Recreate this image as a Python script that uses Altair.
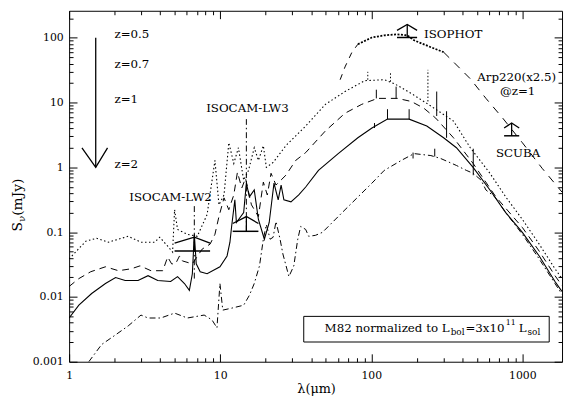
import altair as alt
import pandas as pd

# ---------------- data ----------------
# z = 0.5 (dotted)
z05_lam = [1, 1.29, 1.52, 1.82, 2.46, 2.99, 3.69, 3.98, 4.49, 4.84, 4.99, 5.22, 6.06, 7.05, 8.19,
           9.23, 9.81, 10.6, 11.4, 12.3, 13.2, 14.3, 15.4, 16.8, 17.9, 19.3, 20.2, 22.4, 27.2, 36.8,
           49.7, 67, 90.6, 122, 142, 184, 233, 350, 452, 610, 776, 1000, 1292, 1644, 1827]
z05_S = [0.0386, 0.0725, 0.0805, 0.070, 0.0863, 0.070, 0.070, 0.0834, 0.0608, 0.0493, 0.222, 0.110,
         0.0926, 0.0863, 0.187, 1.28, 0.264, 0.375, 2.40, 1.15, 2.01, 0.634, 0.90, 2.01, 1.28, 2.16,
         1.0, 1.19, 2.16, 4.35, 9.39, 14.8, 21.8, 22.5, 19.6, 13.8, 9.72, 5.18, 2.01, 0.81, 0.35,
         0.157, 0.0653, 0.0272, 0.0192]

# z = 0.7 (dashed)
z07_lam = [1, 1.16, 1.39, 1.74, 2.12, 2.58, 2.95, 3.48, 4.17, 4.49, 4.77, 5.06, 5.38, 5.62, 6.54,
           7.60, 8.57, 9.23, 9.81, 10.6, 11.4, 12.3, 13.0, 13.9, 14.7, 16.1, 17.9, 19.3, 20.5, 21.7,
           23.4, 27.2, 31.6, 36.8, 49.7, 67, 86.5, 110, 149, 184, 223, 267, 350, 472, 668, 1000,
           1292, 1644, 1827]
z07_S = [0.0145, 0.0192, 0.0245, 0.0292, 0.0254, 0.0272, 0.0302, 0.0254, 0.0254, 0.0414, 0.0324,
         0.0324, 0.0429, 0.036, 0.0324, 0.0548, 0.0653, 0.0926, 0.174, 0.338, 0.222, 0.375, 0.84,
         0.48, 0.68, 0.264, 0.174, 0.592, 0.375, 0.81, 0.533, 0.756, 1.28, 1.69, 3.65, 6.85, 9.39,
         11.6, 11.6, 10.4, 8.17, 5.75, 2.86, 1.15, 0.35, 0.118, 0.051, 0.0213, 0.015]

# z = 1 (solid)
z1_lam = [1, 1.16, 1.41, 1.74, 2.03, 2.35, 2.86, 3.33, 3.86, 4.70, 5.22, 5.80, 6.25, 6.54, 6.74,
          6.94, 7.37, 8.19, 9.96, 11.1, 11.6, 11.9, 12.5, 12.8, 14.3, 14.9, 15.6, 16.8, 17.9, 19.6,
          21.1, 22.7, 24.2, 25.3, 26.4, 29.4, 33.1, 36.8, 44.7, 60.4, 81.5, 101, 128, 178, 233,
          301, 366, 472, 610, 776, 1000, 1292, 1644, 1827]
z1_S = [0.00473, 0.00745, 0.0113, 0.0161, 0.0199, 0.0179, 0.0179, 0.0213, 0.0179, 0.0173, 0.0206,
        0.0161, 0.0126, 0.0228, 0.0926, 0.0324, 0.0245, 0.0228, 0.0292, 0.0429, 0.070, 0.1225,
        0.315, 0.141, 0.20, 0.571, 0.35, 0.447, 0.157, 0.0778, 0.141, 0.571, 0.315, 0.533, 0.315,
        0.294, 0.375, 0.497, 0.90, 1.63, 2.86, 4.05, 5.55, 5.55, 4.35, 2.86, 2.01, 1.0, 0.447,
        0.20, 0.0993, 0.0429, 0.0173, 0.0122]

# z = 2 (dash-dot)
z2_lam = [1.35, 1.64, 2.03, 2.46, 2.99, 3.33, 4.04, 4.99, 6.06, 7.83, 8.83, 9.52, 9.96, 10.4, 11.9,
          14.3, 15.6, 16.8, 18.2, 19.3, 20.2, 21.4, 22.4, 23.4, 24.9, 26.0, 28.5, 30.7, 32.6, 34.1,
          36.8, 38.5, 42.7, 47.5, 64.1, 101, 122, 158, 192, 248, 288, 366, 425, 472, 533, 574, 658,
          776, 1000, 1292, 1644, 1827]
z2_S = [0.001, 0.00184, 0.0026, 0.00357, 0.00525, 0.00473, 0.00473, 0.00563, 0.00473, 0.00525,
        0.00441, 0.00333, 0.0161, 0.00626, 0.00671, 0.00745, 0.0106, 0.0161, 0.0302, 0.0778, 0.131,
        0.0778, 0.0834, 0.146, 0.0778, 0.046, 0.0206, 0.0302, 0.0778, 0.1225, 0.110, 0.0863,
        0.0893, 0.0993, 0.20, 0.571, 0.90, 1.28, 1.63, 1.52, 1.37, 1.07, 0.90, 0.81, 0.634, 0.447,
        0.35, 0.20, 0.0926, 0.0386, 0.0161, 0.011]

# Arp220 (x2.5) @ z=1, three drawn pieces
arpA_lam = [62.2, 67, 74.5, 81.5]
arpA_S = [22.5, 35.5, 60, 79.4]
arpB_lam = [81.5, 101, 122, 149, 173, 192, 248, 301]
arpB_S = [79.4, 101, 109, 113, 109, 91.3, 71.5, 60]
arpC_lam = [301, 350, 452, 574, 741, 1000, 1352, 1827]
arpC_S = [60, 42.3, 23.3, 11.6, 5.75, 2.40, 0.966, 0.417]

# instrument limit symbols
sym_name = ["LW2", "LW3", "ISOPHOT", "SCUBA"]
sym_lam = [6.74, 14.9, 173, 849]
sym_lo = [4.99, 12.1, 148, 757]
sym_hi = [8.57, 17.9, 201, 953]
sym_bar = [0.051, 0.103, 101, 3.07]
sym_top = [0.0834, 0.174, 160, 4.83]
sym_arm = [0.0676, 0.136, 130, 4.05]

# dash-dot filter marker lines
mk_lam = [6.74, 14.9]
mk_lo = [0.0192, 0.103]
mk_hi = [0.264, 5.55]

# short vertical bars on the curves
bar_lam = [94.8, 134, 237, 108, 146, 271, 105, 128, 178, 315, 189, 263, 473]
bar_lo = [22.5, 21, 10.4, 11.6, 11.6, 6.2, 4.05, 5.55, 5.55, 2.86, 1.37, 1.47, 0.756]
bar_hi = [29.8, 29.8, 32, 15.8, 17.6, 14.8, 4.83, 7.9, 7.9, 7.35, 1.69, 1.94, 1.94]
bar_dotted = [True, True, True, False, False, False, False, False, False, False, False, False, False]

# redshift arrow
arrow_lam = [1.5, 1.5]
arrow_S = [100, 1]
head_lam = [1.216, 1.5, 1.796]
head_S = [2.0, 1.0, 2.0]

x_major = [1, 10, 100, 1000]
y_major = [0.001, 0.01, 0.1, 1, 10, 100]

# ---------------- layout ----------------
W, H = 500, 356
X0, Y0 = 70, 8
FONT = "DejaVu Serif"

xs = alt.Scale(type="log", domain=[1, 1830], nice=False)
ys = alt.Scale(type="log", domain=[0.001, 261], nice=False)

x_ticks = sorted({round(k * 10 ** e, 6) for e in range(0, 4) for k in range(1, 10) if k * 10 ** e <= 1830})
y_ticks = sorted({round(k * 10 ** e, 6) for e in range(-3, 3) for k in range(1, 10) if k * 10 ** e <= 261})
x_test = "indexof([1,10,100,1000], datum.value) >= 0"
y_test = "indexof([0.001,0.01,0.1,1,10,100], datum.value) >= 0"


def tick_axis(orient, offset, values, test):
    return alt.Axis(orient=orient, offset=offset, values=values, labels=False, domain=False,
                    grid=False, title="", tickColor="black", tickWidth=1,
                    tickSize={"condition": {"test": test, "value": 8}, "value": 4})


def label_axis(orient, values, pad):
    return alt.Axis(orient=orient, values=values, ticks=False, tickSize=0, domain=False, grid=False,
                    title="", labelFont=FONT, labelFontSize=11, labelColor="black",
                    labelPadding=pad, labelExpr="toString(datum.value)", labelFlush=False,
                    labelOverlap=False)


dummy = pd.DataFrame({"lam": [1.0], "S": [1.0]})


def axis_layer(xa, ya):
    return alt.Chart(dummy).mark_point(opacity=0).encode(
        x=alt.X("lam:Q", scale=xs, axis=xa), y=alt.Y("S:Q", scale=ys, axis=ya))


ax1 = axis_layer(label_axis("bottom", x_major, 8), label_axis("left", y_major, 6))
ax2 = axis_layer(tick_axis("top", -H, x_ticks, x_test), tick_axis("right", -W, y_ticks, y_test))
ax3 = axis_layer(tick_axis("bottom", -H, x_ticks, x_test), tick_axis("left", -W, y_ticks, y_test))


def curve(lam, S, dash=None, width=1.0):
    df = pd.DataFrame({"lam": lam, "S": S, "i": list(range(len(lam)))})
    kw = dict(color="black", strokeWidth=width, clip=True)
    if dash:
        kw["strokeDash"] = dash
    return alt.Chart(df).mark_line(**kw).encode(
        x=alt.X("lam:Q", scale=xs, axis=None), y=alt.Y("S:Q", scale=ys, axis=None),
        order=alt.Order("i:Q"))


c05 = curve(z05_lam, z05_S, [1.5, 2.5], 1.1)
c07 = curve(z07_lam, z07_S, [7, 5], 1.0)
c1 = curve(z1_lam, z1_S, None, 1.1)
c2 = curve(z2_lam, z2_S, [6, 3, 1.5, 3], 1.0)
arpA = curve(arpA_lam, arpA_S, [6, 6], 1.0)
arpB = curve(arpB_lam, arpB_S, [2, 1.5], 1.8)
arpC = curve(arpC_lam, arpC_S, [8, 7], 1.0)
arrow = curve(arrow_lam, arrow_S, None, 1.3)
arrow_head = curve(head_lam, head_S, None, 1.3)

sym = pd.DataFrame({"name": sym_name, "lam": sym_lam, "lo": sym_lo, "hi": sym_hi,
                    "bar": sym_bar, "top": sym_top, "arm": sym_arm})
sym_bar_l = alt.Chart(sym).mark_rule(color="black", strokeWidth=1.5).encode(
    x=alt.X("lo:Q", scale=xs, axis=None), x2="hi:Q", y=alt.Y("bar:Q", scale=ys, axis=None))
sym_stem = alt.Chart(sym).mark_rule(color="black", strokeWidth=1.3).encode(
    x=alt.X("lam:Q", scale=xs, axis=None), y=alt.Y("bar:Q", scale=ys, axis=None), y2="top:Q")
head_rows = []
for n, c, lo, hi, t, a in zip(sym_name, sym_lam, sym_lo, sym_hi, sym_top, sym_arm):
    head_rows += [{"name": n, "lam": lo, "S": a, "i": 0}, {"name": n, "lam": c, "S": t, "i": 1},
                  {"name": n, "lam": hi, "S": a, "i": 2}]
sym_head = alt.Chart(pd.DataFrame(head_rows)).mark_line(color="black", strokeWidth=1.3).encode(
    x=alt.X("lam:Q", scale=xs, axis=None), y=alt.Y("S:Q", scale=ys, axis=None),
    detail="name:N", order="i:Q")

mk = pd.DataFrame({"lam": mk_lam, "lo": mk_lo, "hi": mk_hi})
mk_l = alt.Chart(mk).mark_rule(color="black", strokeWidth=1, strokeDash=[6, 3, 1.5, 3]).encode(
    x=alt.X("lam:Q", scale=xs, axis=None), y=alt.Y("lo:Q", scale=ys, axis=None), y2="hi:Q")

bars = pd.DataFrame({"lam": bar_lam, "lo": bar_lo, "hi": bar_hi, "dotted": bar_dotted})
bars_solid = alt.Chart(bars).transform_filter("!datum.dotted").mark_rule(
    color="black", strokeWidth=1).encode(
    x=alt.X("lam:Q", scale=xs, axis=None), y=alt.Y("lo:Q", scale=ys, axis=None), y2="hi:Q")
bars_dot = alt.Chart(bars).transform_filter("datum.dotted").mark_rule(
    color="black", strokeWidth=1, strokeDash=[1.5, 2]).encode(
    x=alt.X("lam:Q", scale=xs, axis=None), y=alt.Y("lo:Q", scale=ys, axis=None), y2="hi:Q")

one = pd.DataFrame({"a": [0]})


def label(text, px, py, size=12, align="left", angle=0):
    kw = dict(text=text, font=FONT, fontSize=size, align=align, baseline="middle", color="black")
    if angle:
        kw["angle"] = angle
    return alt.Chart(one).mark_text(**kw).encode(x=alt.value(px - X0), y=alt.value(py - Y0))


texts = [
    label("z=0.5", 116, 32), label("z=0.7", 116, 62), label("z=1", 116, 98), label("z=2", 116, 163),
    label("ISOCAM-LW2", 131, 197), label("ISOCAM-LW3", 209, 107), label("ISOPHOT", 430, 32),
    label("Arp220(x2.5)", 484, 75), label("@z=1", 507, 89), label("SCUBA", 503, 152),
    label("λ(μm)", 321, 392, 13, "center"),
    label("S", 18, 232, 14, "left", 270), label("ν", 22, 222, 10, "left", 270),
    label("(mJy)", 18, 216, 14, "left", 270),
]

box = alt.Chart(one).mark_rect(fill="white", stroke="black", strokeWidth=1).encode(
    x=alt.value(308 - X0), x2=alt.value(557 - X0), y=alt.value(318 - Y0), y2=alt.value(344 - Y0))
box_texts = [
    label("M82 normalized to L", 456, 330, 12, "right"),
    label("bol", 457, 334, 9),
    label("=3x10", 472, 330, 12),
    label("11", 513, 325, 8),
    label("L", 526, 330, 12),
    label("sol", 535, 334, 9),
]

chart = alt.layer(
    ax1, ax2, ax3,
    c05, c07, c1, c2, arpA, arpB, arpC, arrow, arrow_head,
    mk_l, bars_solid, bars_dot, sym_bar_l, sym_stem, sym_head,
    *texts, box, *box_texts,
).resolve_axis(x="independent", y="independent").properties(
    width=W, height=H,
    autosize=alt.AutoSizeParams(type="none"),
    padding={"left": 62, "top": 0, "right": 2, "bottom": 36},
    background="white",
).configure_view(stroke="black", strokeWidth=1)

chart.save("out.html", embed_options={"renderer": "svg", "actions": False})
